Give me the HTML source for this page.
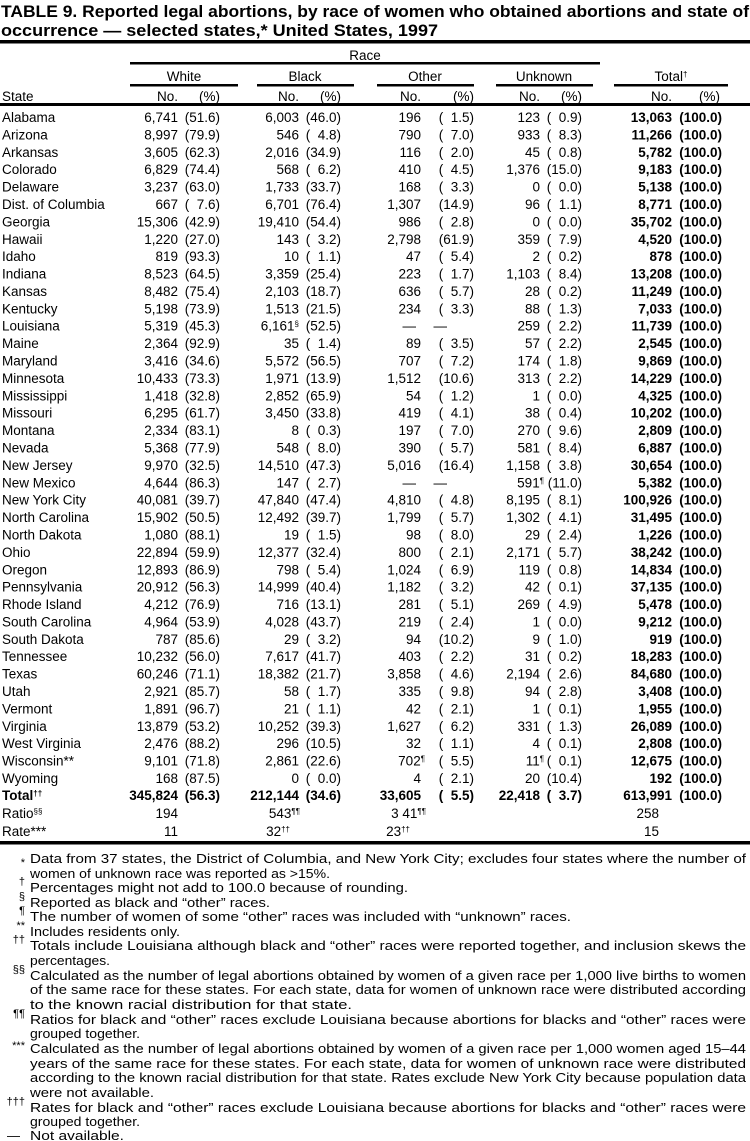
<!DOCTYPE html>
<html><head><meta charset="utf-8"><style>
html,body{margin:0;padding:0;background:#fff}
svg{display:block}
text{font-family:"Liberation Sans",sans-serif;fill:#000;white-space:pre}
.d{font-size:13.5px;text-anchor:end}
.d .s{text-anchor:start}
.b{font-weight:bold}
.f{font-size:13px}
.m{font-size:11px;text-anchor:end}
</style></head><body>
<svg width="750" height="1141" viewBox="0 0 750 1141" xmlns="http://www.w3.org/2000/svg">
<text x="1" y="17" font-size="17" font-weight="bold" textLength="748" lengthAdjust="spacingAndGlyphs">TABLE 9. Reported legal abortions, by race of women who obtained abortions and state of</text>
<text x="1" y="36" font-size="17" font-weight="bold" textLength="437" lengthAdjust="spacingAndGlyphs">occurrence — selected states,* United States, 1997</text>
<rect x="0" y="40" width="750" height="3.5"/>
<text x="365" y="60" font-size="13.5" text-anchor="middle">Race</text>
<rect x="130" y="62" width="470" height="2.5"/>
<g font-size="13.5" text-anchor="middle">
<text x="184" y="81">White</text><text x="305" y="81">Black</text><text x="425" y="81">Other</text><text x="544" y="81">Unknown</text><text x="671" y="81">Total<tspan font-size="8" baseline-shift="super">†</tspan></text>
</g>
<rect x="130" y="84" width="108" height="2.5"/><rect x="257" y="84" width="97" height="2.5"/><rect x="377" y="84" width="97" height="2.5"/><rect x="496" y="84" width="97" height="2.5"/><rect x="614" y="84" width="114" height="2.5"/>
<text class="d" y="101"><tspan class="s" x="2">State</tspan><tspan x="178">No.</tspan><tspan x="220">(%)</tspan><tspan x="299">No.</tspan><tspan x="341">(%)</tspan><tspan x="421">No.</tspan><tspan x="474">(%)</tspan><tspan x="540">No.</tspan><tspan x="582">(%)</tspan><tspan x="672">No.</tspan><tspan x="720">(%)</tspan></text>
<rect x="0" y="103" width="750" height="3"/>

<text class="d" y="122"><tspan class="s" x="2">Alabama</tspan><tspan x="178">6,741</tspan><tspan x="220">(51.6)</tspan><tspan x="299">6,003</tspan><tspan x="341">(46.0)</tspan><tspan x="421">196</tspan><tspan x="474">(  1.5)</tspan><tspan x="540">123</tspan><tspan x="582">(  0.9)</tspan><tspan class="b" x="672">13,063</tspan><tspan class="b" x="722">(100.0)</tspan></text>
<text class="d" y="139.4"><tspan class="s" x="2">Arizona</tspan><tspan x="178">8,997</tspan><tspan x="220">(79.9)</tspan><tspan x="299">546</tspan><tspan x="341">(  4.8)</tspan><tspan x="421">790</tspan><tspan x="474">(  7.0)</tspan><tspan x="540">933</tspan><tspan x="582">(  8.3)</tspan><tspan class="b" x="672">11,266</tspan><tspan class="b" x="722">(100.0)</tspan></text>
<text class="d" y="156.8"><tspan class="s" x="2">Arkansas</tspan><tspan x="178">3,605</tspan><tspan x="220">(62.3)</tspan><tspan x="299">2,016</tspan><tspan x="341">(34.9)</tspan><tspan x="421">116</tspan><tspan x="474">(  2.0)</tspan><tspan x="540">45</tspan><tspan x="582">(  0.8)</tspan><tspan class="b" x="672">5,782</tspan><tspan class="b" x="722">(100.0)</tspan></text>
<text class="d" y="174.2"><tspan class="s" x="2">Colorado</tspan><tspan x="178">6,829</tspan><tspan x="220">(74.4)</tspan><tspan x="299">568</tspan><tspan x="341">(  6.2)</tspan><tspan x="421">410</tspan><tspan x="474">(  4.5)</tspan><tspan x="540">1,376</tspan><tspan x="582">(15.0)</tspan><tspan class="b" x="672">9,183</tspan><tspan class="b" x="722">(100.0)</tspan></text>
<text class="d" y="191.6"><tspan class="s" x="2">Delaware</tspan><tspan x="178">3,237</tspan><tspan x="220">(63.0)</tspan><tspan x="299">1,733</tspan><tspan x="341">(33.7)</tspan><tspan x="421">168</tspan><tspan x="474">(  3.3)</tspan><tspan x="540">0</tspan><tspan x="582">(  0.0)</tspan><tspan class="b" x="672">5,138</tspan><tspan class="b" x="722">(100.0)</tspan></text>
<text class="d" y="209"><tspan class="s" x="2">Dist. of Columbia</tspan><tspan x="178">667</tspan><tspan x="220">(  7.6)</tspan><tspan x="299">6,701</tspan><tspan x="341">(76.4)</tspan><tspan x="421">1,307</tspan><tspan x="474">(14.9)</tspan><tspan x="540">96</tspan><tspan x="582">(  1.1)</tspan><tspan class="b" x="672">8,771</tspan><tspan class="b" x="722">(100.0)</tspan></text>
<text class="d" y="226.4"><tspan class="s" x="2">Georgia</tspan><tspan x="178">15,306</tspan><tspan x="220">(42.9)</tspan><tspan x="299">19,410</tspan><tspan x="341">(54.4)</tspan><tspan x="421">986</tspan><tspan x="474">(  2.8)</tspan><tspan x="540">0</tspan><tspan x="582">(  0.0)</tspan><tspan class="b" x="672">35,702</tspan><tspan class="b" x="722">(100.0)</tspan></text>
<text class="d" y="243.8"><tspan class="s" x="2">Hawaii</tspan><tspan x="178">1,220</tspan><tspan x="220">(27.0)</tspan><tspan x="299">143</tspan><tspan x="341">(  3.2)</tspan><tspan x="421">2,798</tspan><tspan x="474">(61.9)</tspan><tspan x="540">359</tspan><tspan x="582">(  7.9)</tspan><tspan class="b" x="672">4,520</tspan><tspan class="b" x="722">(100.0)</tspan></text>
<text class="d" y="261.2"><tspan class="s" x="2">Idaho</tspan><tspan x="178">819</tspan><tspan x="220">(93.3)</tspan><tspan x="299">10</tspan><tspan x="341">(  1.1)</tspan><tspan x="421">47</tspan><tspan x="474">(  5.4)</tspan><tspan x="540">2</tspan><tspan x="582">(  0.2)</tspan><tspan class="b" x="672">878</tspan><tspan class="b" x="722">(100.0)</tspan></text>
<text class="d" y="278.6"><tspan class="s" x="2">Indiana</tspan><tspan x="178">8,523</tspan><tspan x="220">(64.5)</tspan><tspan x="299">3,359</tspan><tspan x="341">(25.4)</tspan><tspan x="421">223</tspan><tspan x="474">(  1.7)</tspan><tspan x="540">1,103</tspan><tspan x="582">(  8.4)</tspan><tspan class="b" x="672">13,208</tspan><tspan class="b" x="722">(100.0)</tspan></text>
<text class="d" y="296"><tspan class="s" x="2">Kansas</tspan><tspan x="178">8,482</tspan><tspan x="220">(75.4)</tspan><tspan x="299">2,103</tspan><tspan x="341">(18.7)</tspan><tspan x="421">636</tspan><tspan x="474">(  5.7)</tspan><tspan x="540">28</tspan><tspan x="582">(  0.2)</tspan><tspan class="b" x="672">11,249</tspan><tspan class="b" x="722">(100.0)</tspan></text>
<text class="d" y="313.3"><tspan class="s" x="2">Kentucky</tspan><tspan x="178">5,198</tspan><tspan x="220">(73.9)</tspan><tspan x="299">1,513</tspan><tspan x="341">(21.5)</tspan><tspan x="421">234</tspan><tspan x="474">(  3.3)</tspan><tspan x="540">88</tspan><tspan x="582">(  1.3)</tspan><tspan class="b" x="672">7,033</tspan><tspan class="b" x="722">(100.0)</tspan></text>
<text class="d" y="330.7"><tspan class="s" x="2">Louisiana</tspan><tspan x="178">5,319</tspan><tspan x="220">(45.3)</tspan><tspan x="299">6,161<tspan font-size="8" baseline-shift="super">§</tspan></tspan><tspan x="341">(52.5)</tspan><tspan x="416">—</tspan><tspan x="447">—</tspan><tspan x="540">259</tspan><tspan x="582">(  2.2)</tspan><tspan class="b" x="672">11,739</tspan><tspan class="b" x="722">(100.0)</tspan></text>
<text class="d" y="348.1"><tspan class="s" x="2">Maine</tspan><tspan x="178">2,364</tspan><tspan x="220">(92.9)</tspan><tspan x="299">35</tspan><tspan x="341">(  1.4)</tspan><tspan x="421">89</tspan><tspan x="474">(  3.5)</tspan><tspan x="540">57</tspan><tspan x="582">(  2.2)</tspan><tspan class="b" x="672">2,545</tspan><tspan class="b" x="722">(100.0)</tspan></text>
<text class="d" y="365.5"><tspan class="s" x="2">Maryland</tspan><tspan x="178">3,416</tspan><tspan x="220">(34.6)</tspan><tspan x="299">5,572</tspan><tspan x="341">(56.5)</tspan><tspan x="421">707</tspan><tspan x="474">(  7.2)</tspan><tspan x="540">174</tspan><tspan x="582">(  1.8)</tspan><tspan class="b" x="672">9,869</tspan><tspan class="b" x="722">(100.0)</tspan></text>
<text class="d" y="382.9"><tspan class="s" x="2">Minnesota</tspan><tspan x="178">10,433</tspan><tspan x="220">(73.3)</tspan><tspan x="299">1,971</tspan><tspan x="341">(13.9)</tspan><tspan x="421">1,512</tspan><tspan x="474">(10.6)</tspan><tspan x="540">313</tspan><tspan x="582">(  2.2)</tspan><tspan class="b" x="672">14,229</tspan><tspan class="b" x="722">(100.0)</tspan></text>
<text class="d" y="400.3"><tspan class="s" x="2">Mississippi</tspan><tspan x="178">1,418</tspan><tspan x="220">(32.8)</tspan><tspan x="299">2,852</tspan><tspan x="341">(65.9)</tspan><tspan x="421">54</tspan><tspan x="474">(  1.2)</tspan><tspan x="540">1</tspan><tspan x="582">(  0.0)</tspan><tspan class="b" x="672">4,325</tspan><tspan class="b" x="722">(100.0)</tspan></text>
<text class="d" y="417.7"><tspan class="s" x="2">Missouri</tspan><tspan x="178">6,295</tspan><tspan x="220">(61.7)</tspan><tspan x="299">3,450</tspan><tspan x="341">(33.8)</tspan><tspan x="421">419</tspan><tspan x="474">(  4.1)</tspan><tspan x="540">38</tspan><tspan x="582">(  0.4)</tspan><tspan class="b" x="672">10,202</tspan><tspan class="b" x="722">(100.0)</tspan></text>
<text class="d" y="435.1"><tspan class="s" x="2">Montana</tspan><tspan x="178">2,334</tspan><tspan x="220">(83.1)</tspan><tspan x="299">8</tspan><tspan x="341">(  0.3)</tspan><tspan x="421">197</tspan><tspan x="474">(  7.0)</tspan><tspan x="540">270</tspan><tspan x="582">(  9.6)</tspan><tspan class="b" x="672">2,809</tspan><tspan class="b" x="722">(100.0)</tspan></text>
<text class="d" y="452.5"><tspan class="s" x="2">Nevada</tspan><tspan x="178">5,368</tspan><tspan x="220">(77.9)</tspan><tspan x="299">548</tspan><tspan x="341">(  8.0)</tspan><tspan x="421">390</tspan><tspan x="474">(  5.7)</tspan><tspan x="540">581</tspan><tspan x="582">(  8.4)</tspan><tspan class="b" x="672">6,887</tspan><tspan class="b" x="722">(100.0)</tspan></text>
<text class="d" y="469.9"><tspan class="s" x="2">New Jersey</tspan><tspan x="178">9,970</tspan><tspan x="220">(32.5)</tspan><tspan x="299">14,510</tspan><tspan x="341">(47.3)</tspan><tspan x="421">5,016</tspan><tspan x="474">(16.4)</tspan><tspan x="540">1,158</tspan><tspan x="582">(  3.8)</tspan><tspan class="b" x="672">30,654</tspan><tspan class="b" x="722">(100.0)</tspan></text>
<text class="d" y="487.3"><tspan class="s" x="2">New Mexico</tspan><tspan x="178">4,644</tspan><tspan x="220">(86.3)</tspan><tspan x="299">147</tspan><tspan x="341">(  2.7)</tspan><tspan x="416">—</tspan><tspan x="447">—</tspan><tspan x="544">591<tspan font-size="8" baseline-shift="super">¶</tspan></tspan><tspan x="582">(11.0)</tspan><tspan class="b" x="672">5,382</tspan><tspan class="b" x="722">(100.0)</tspan></text>
<text class="d" y="504.7"><tspan class="s" x="2">New York City</tspan><tspan x="178">40,081</tspan><tspan x="220">(39.7)</tspan><tspan x="299">47,840</tspan><tspan x="341">(47.4)</tspan><tspan x="421">4,810</tspan><tspan x="474">(  4.8)</tspan><tspan x="540">8,195</tspan><tspan x="582">(  8.1)</tspan><tspan class="b" x="672">100,926</tspan><tspan class="b" x="722">(100.0)</tspan></text>
<text class="d" y="522.1"><tspan class="s" x="2">North Carolina</tspan><tspan x="178">15,902</tspan><tspan x="220">(50.5)</tspan><tspan x="299">12,492</tspan><tspan x="341">(39.7)</tspan><tspan x="421">1,799</tspan><tspan x="474">(  5.7)</tspan><tspan x="540">1,302</tspan><tspan x="582">(  4.1)</tspan><tspan class="b" x="672">31,495</tspan><tspan class="b" x="722">(100.0)</tspan></text>
<text class="d" y="539.5"><tspan class="s" x="2">North Dakota</tspan><tspan x="178">1,080</tspan><tspan x="220">(88.1)</tspan><tspan x="299">19</tspan><tspan x="341">(  1.5)</tspan><tspan x="421">98</tspan><tspan x="474">(  8.0)</tspan><tspan x="540">29</tspan><tspan x="582">(  2.4)</tspan><tspan class="b" x="672">1,226</tspan><tspan class="b" x="722">(100.0)</tspan></text>
<text class="d" y="556.9"><tspan class="s" x="2">Ohio</tspan><tspan x="178">22,894</tspan><tspan x="220">(59.9)</tspan><tspan x="299">12,377</tspan><tspan x="341">(32.4)</tspan><tspan x="421">800</tspan><tspan x="474">(  2.1)</tspan><tspan x="540">2,171</tspan><tspan x="582">(  5.7)</tspan><tspan class="b" x="672">38,242</tspan><tspan class="b" x="722">(100.0)</tspan></text>
<text class="d" y="574.3"><tspan class="s" x="2">Oregon</tspan><tspan x="178">12,893</tspan><tspan x="220">(86.9)</tspan><tspan x="299">798</tspan><tspan x="341">(  5.4)</tspan><tspan x="421">1,024</tspan><tspan x="474">(  6.9)</tspan><tspan x="540">119</tspan><tspan x="582">(  0.8)</tspan><tspan class="b" x="672">14,834</tspan><tspan class="b" x="722">(100.0)</tspan></text>
<text class="d" y="591.7"><tspan class="s" x="2">Pennsylvania</tspan><tspan x="178">20,912</tspan><tspan x="220">(56.3)</tspan><tspan x="299">14,999</tspan><tspan x="341">(40.4)</tspan><tspan x="421">1,182</tspan><tspan x="474">(  3.2)</tspan><tspan x="540">42</tspan><tspan x="582">(  0.1)</tspan><tspan class="b" x="672">37,135</tspan><tspan class="b" x="722">(100.0)</tspan></text>
<text class="d" y="609.1"><tspan class="s" x="2">Rhode Island</tspan><tspan x="178">4,212</tspan><tspan x="220">(76.9)</tspan><tspan x="299">716</tspan><tspan x="341">(13.1)</tspan><tspan x="421">281</tspan><tspan x="474">(  5.1)</tspan><tspan x="540">269</tspan><tspan x="582">(  4.9)</tspan><tspan class="b" x="672">5,478</tspan><tspan class="b" x="722">(100.0)</tspan></text>
<text class="d" y="626.4"><tspan class="s" x="2">South Carolina</tspan><tspan x="178">4,964</tspan><tspan x="220">(53.9)</tspan><tspan x="299">4,028</tspan><tspan x="341">(43.7)</tspan><tspan x="421">219</tspan><tspan x="474">(  2.4)</tspan><tspan x="540">1</tspan><tspan x="582">(  0.0)</tspan><tspan class="b" x="672">9,212</tspan><tspan class="b" x="722">(100.0)</tspan></text>
<text class="d" y="643.8"><tspan class="s" x="2">South Dakota</tspan><tspan x="178">787</tspan><tspan x="220">(85.6)</tspan><tspan x="299">29</tspan><tspan x="341">(  3.2)</tspan><tspan x="421">94</tspan><tspan x="474">(10.2)</tspan><tspan x="540">9</tspan><tspan x="582">(  1.0)</tspan><tspan class="b" x="672">919</tspan><tspan class="b" x="722">(100.0)</tspan></text>
<text class="d" y="661.2"><tspan class="s" x="2">Tennessee</tspan><tspan x="178">10,232</tspan><tspan x="220">(56.0)</tspan><tspan x="299">7,617</tspan><tspan x="341">(41.7)</tspan><tspan x="421">403</tspan><tspan x="474">(  2.2)</tspan><tspan x="540">31</tspan><tspan x="582">(  0.2)</tspan><tspan class="b" x="672">18,283</tspan><tspan class="b" x="722">(100.0)</tspan></text>
<text class="d" y="678.6"><tspan class="s" x="2">Texas</tspan><tspan x="178">60,246</tspan><tspan x="220">(71.1)</tspan><tspan x="299">18,382</tspan><tspan x="341">(21.7)</tspan><tspan x="421">3,858</tspan><tspan x="474">(  4.6)</tspan><tspan x="540">2,194</tspan><tspan x="582">(  2.6)</tspan><tspan class="b" x="672">84,680</tspan><tspan class="b" x="722">(100.0)</tspan></text>
<text class="d" y="696"><tspan class="s" x="2">Utah</tspan><tspan x="178">2,921</tspan><tspan x="220">(85.7)</tspan><tspan x="299">58</tspan><tspan x="341">(  1.7)</tspan><tspan x="421">335</tspan><tspan x="474">(  9.8)</tspan><tspan x="540">94</tspan><tspan x="582">(  2.8)</tspan><tspan class="b" x="672">3,408</tspan><tspan class="b" x="722">(100.0)</tspan></text>
<text class="d" y="713.4"><tspan class="s" x="2">Vermont</tspan><tspan x="178">1,891</tspan><tspan x="220">(96.7)</tspan><tspan x="299">21</tspan><tspan x="341">(  1.1)</tspan><tspan x="421">42</tspan><tspan x="474">(  2.1)</tspan><tspan x="540">1</tspan><tspan x="582">(  0.1)</tspan><tspan class="b" x="672">1,955</tspan><tspan class="b" x="722">(100.0)</tspan></text>
<text class="d" y="730.8"><tspan class="s" x="2">Virginia</tspan><tspan x="178">13,879</tspan><tspan x="220">(53.2)</tspan><tspan x="299">10,252</tspan><tspan x="341">(39.3)</tspan><tspan x="421">1,627</tspan><tspan x="474">(  6.2)</tspan><tspan x="540">331</tspan><tspan x="582">(  1.3)</tspan><tspan class="b" x="672">26,089</tspan><tspan class="b" x="722">(100.0)</tspan></text>
<text class="d" y="748.2"><tspan class="s" x="2">West Virginia</tspan><tspan x="178">2,476</tspan><tspan x="220">(88.2)</tspan><tspan x="299">296</tspan><tspan x="341">(10.5)</tspan><tspan x="421">32</tspan><tspan x="474">(  1.1)</tspan><tspan x="540">4</tspan><tspan x="582">(  0.1)</tspan><tspan class="b" x="672">2,808</tspan><tspan class="b" x="722">(100.0)</tspan></text>
<text class="d" y="765.6"><tspan class="s" x="2">Wisconsin**</tspan><tspan x="178">9,101</tspan><tspan x="220">(71.8)</tspan><tspan x="299">2,861</tspan><tspan x="341">(22.6)</tspan><tspan x="425">702<tspan font-size="8" baseline-shift="super">¶</tspan></tspan><tspan x="474">(  5.5)</tspan><tspan x="544">11<tspan font-size="8" baseline-shift="super">¶</tspan></tspan><tspan x="582">(  0.1)</tspan><tspan class="b" x="672">12,675</tspan><tspan class="b" x="722">(100.0)</tspan></text>
<text class="d" y="783"><tspan class="s" x="2">Wyoming</tspan><tspan x="178">168</tspan><tspan x="220">(87.5)</tspan><tspan x="299">0</tspan><tspan x="341">(  0.0)</tspan><tspan x="421">4</tspan><tspan x="474">(  2.1)</tspan><tspan x="540">20</tspan><tspan x="582">(10.4)</tspan><tspan class="b" x="672">192</tspan><tspan class="b" x="722">(100.0)</tspan></text>
<text class="d b" y="800"><tspan class="s" x="2">Total<tspan font-size="8" baseline-shift="super">††</tspan></tspan><tspan x="178">345,824</tspan><tspan x="220">(56.3)</tspan><tspan x="299">212,144</tspan><tspan x="341">(34.6)</tspan><tspan x="421">33,605</tspan><tspan x="474">(  5.5)</tspan><tspan x="540">22,418</tspan><tspan x="582">(  3.7)</tspan><tspan x="672">613,991</tspan><tspan x="722">(100.0)</tspan></text>
<text class="d" y="818"><tspan class="s" x="2">Ratio<tspan font-size="8" baseline-shift="super">§§</tspan></tspan><tspan x="178">194</tspan><tspan x="300">543<tspan font-size="8" baseline-shift="super">¶¶</tspan></tspan><tspan x="426">3 41<tspan font-size="8" baseline-shift="super">¶¶</tspan></tspan><tspan x="659">258</tspan></text>
<text class="d" y="836"><tspan class="s" x="2">Rate***</tspan><tspan x="290">32<tspan font-size="8" baseline-shift="super">††</tspan></tspan><tspan x="178">11</tspan><tspan x="410">23<tspan font-size="8" baseline-shift="super">††</tspan></tspan><tspan x="659">15</tspan></text>
<rect x="0" y="841" width="750" height="3.5"/>

<g class="f">
<text class="m" x="25" y="866">*</text>
<text x="30" y="863" textLength="716" lengthAdjust="spacingAndGlyphs">Data from 37 states, the District of Columbia, and New York City; excludes four states where the number of</text>
<text x="30" y="878" textLength="300" lengthAdjust="spacingAndGlyphs">women of unknown race was reported as &gt;15%.</text>
<text class="m" x="25" y="885">†</text>
<text x="30" y="892" textLength="378" lengthAdjust="spacingAndGlyphs">Percentages might not add to 100.0 because of rounding.</text>
<text class="m" x="25" y="900">§</text>
<text x="30" y="907" textLength="240" lengthAdjust="spacingAndGlyphs">Reported as black and “other” races.</text>
<text class="m" x="25" y="914">¶</text>
<text x="30" y="921" textLength="541" lengthAdjust="spacingAndGlyphs">The number of women of some “other” races was included with “unknown” races.</text>
<text class="m" x="25" y="929">**</text>
<text x="30" y="936" textLength="150" lengthAdjust="spacingAndGlyphs">Includes residents only.</text>
<text class="m" x="25" y="943">††</text>
<text x="30" y="950" textLength="716" lengthAdjust="spacingAndGlyphs">Totals include Louisiana although black and “other” races were reported together, and inclusion skews the</text>
<text x="30" y="965" textLength="80" lengthAdjust="spacingAndGlyphs">percentages.</text>
<text class="m" x="25" y="973">§§</text>
<text x="30" y="980" textLength="716" lengthAdjust="spacingAndGlyphs">Calculated as the number of legal abortions obtained by women of a given race per 1,000 live births to women</text>
<text x="30" y="994" textLength="716" lengthAdjust="spacingAndGlyphs">of the same race for these states. For each state, data for women of unknown race were distributed according</text>
<text x="30" y="1009" textLength="322" lengthAdjust="spacingAndGlyphs">to the known racial distribution for that state.</text>
<text class="m" x="25" y="1017">¶¶</text>
<text x="30" y="1024" textLength="716" lengthAdjust="spacingAndGlyphs">Ratios for black and “other” races exclude Louisiana because abortions for blacks and “other” races were</text>
<text x="30" y="1038" textLength="110" lengthAdjust="spacingAndGlyphs">grouped together.</text>
<text class="m" x="25" y="1049">***</text>
<text x="30" y="1053" textLength="716" lengthAdjust="spacingAndGlyphs">Calculated as the number of legal abortions obtained by women of a given race per 1,000 women aged 15–44</text>
<text x="30" y="1068" textLength="716" lengthAdjust="spacingAndGlyphs">years of the same race for these states. For each state, data for women of unknown race were distributed</text>
<text x="30" y="1082" textLength="716" lengthAdjust="spacingAndGlyphs">according to the known racial distribution for that state. Rates exclude New York City because population data</text>
<text x="30" y="1097" textLength="124" lengthAdjust="spacingAndGlyphs">were not available.</text>
<text class="m" x="25" y="1105">†††</text>
<text x="30" y="1112" textLength="716" lengthAdjust="spacingAndGlyphs">Rates for black and “other” races exclude Louisiana because abortions for blacks and “other” races were</text>
<text x="30" y="1126" textLength="110" lengthAdjust="spacingAndGlyphs">grouped together.</text>
<text x="7" y="1140">—</text>
<text x="30" y="1140" textLength="94" lengthAdjust="spacingAndGlyphs">Not available.</text>
</g>
</svg>
</body></html>
